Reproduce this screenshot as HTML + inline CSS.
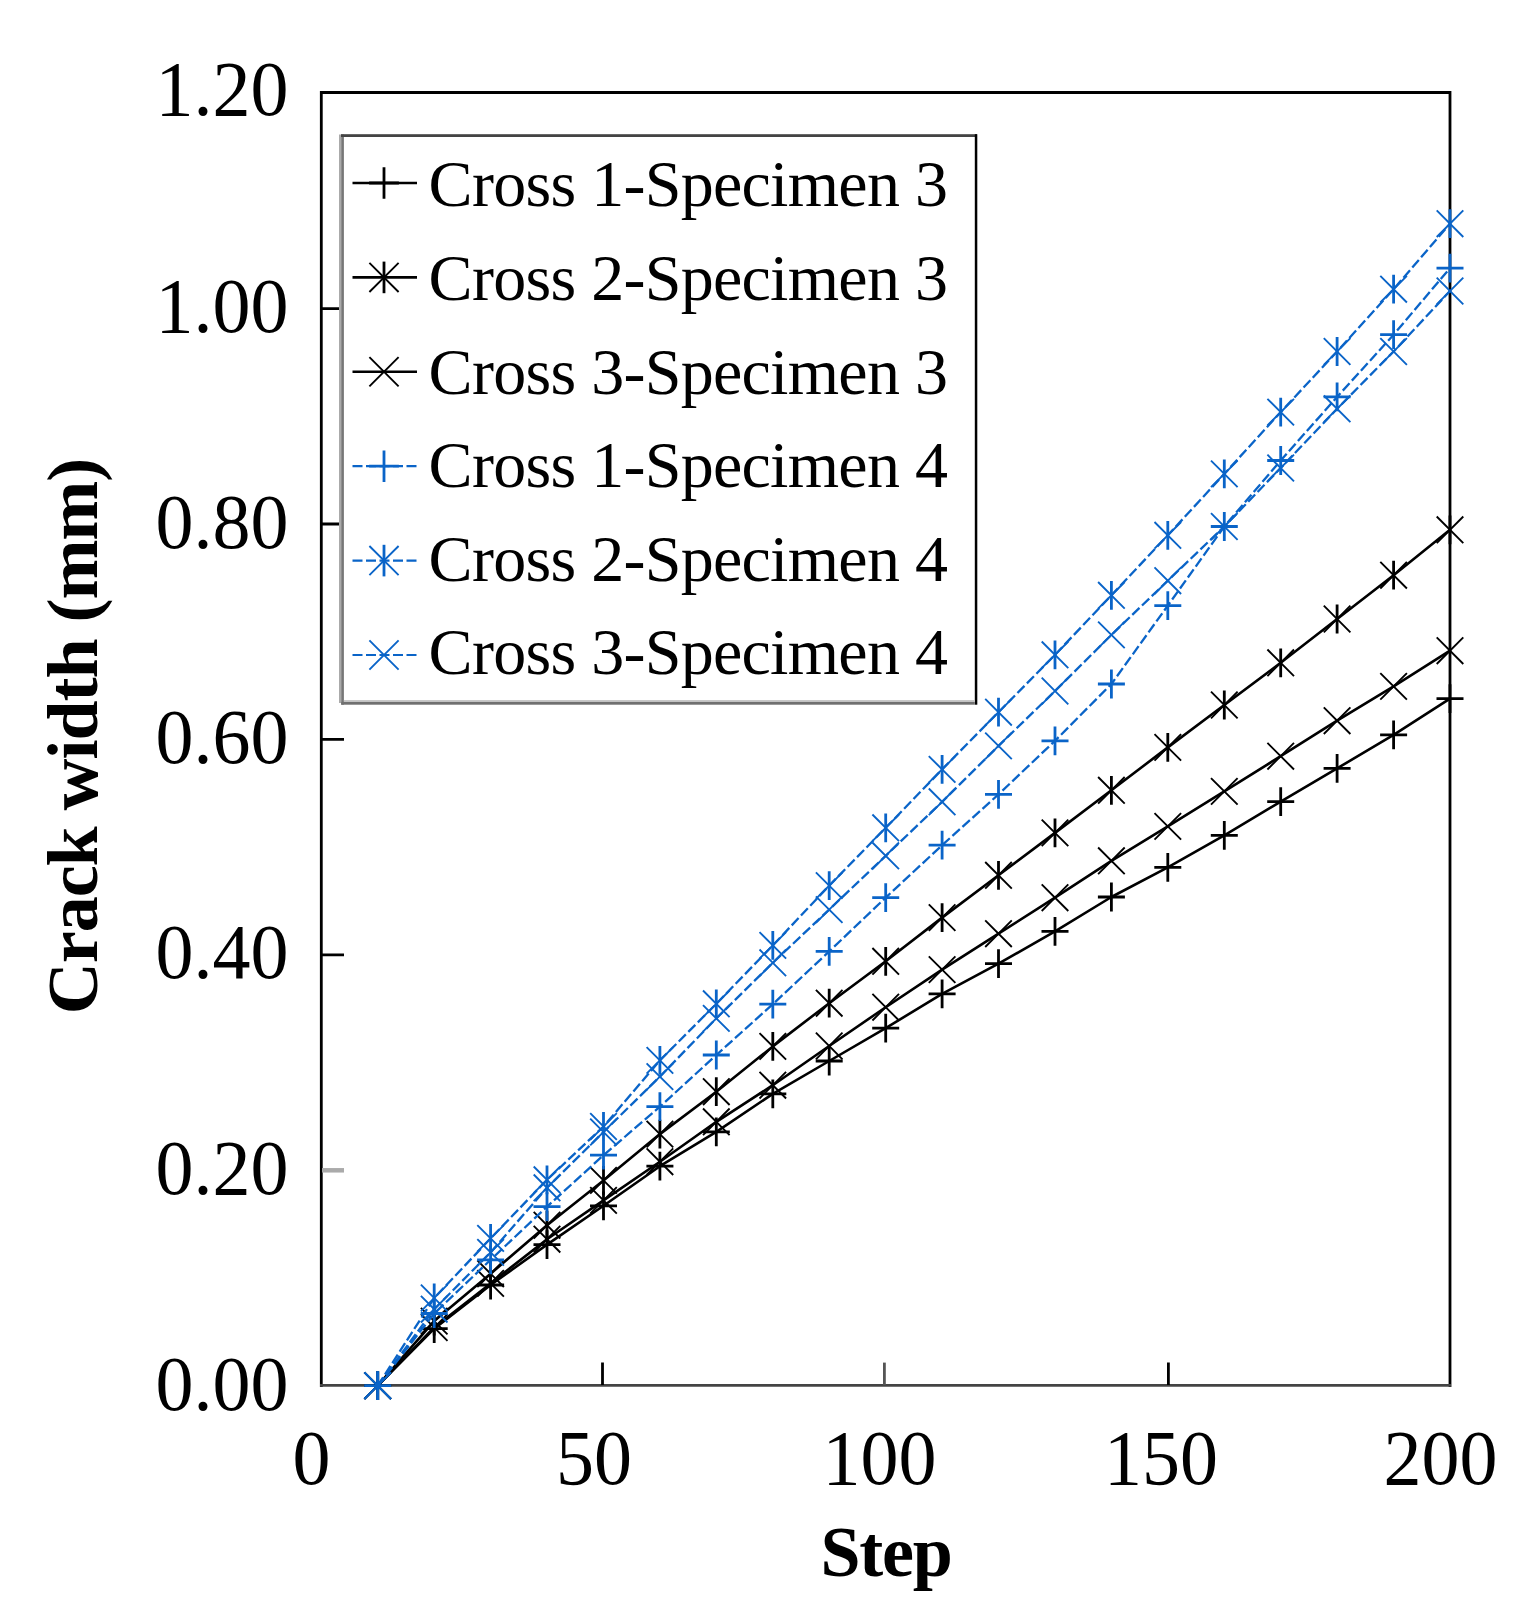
<!DOCTYPE html>
<html><head><meta charset="utf-8"><title>Crack width vs Step</title>
<style>html,body{margin:0;padding:0;background:#fff;width:1527px;height:1606px;overflow:hidden}svg{display:block}</style>
</head><body>
<svg width="1527" height="1606" viewBox="0 0 1527 1606">
<rect width="1527" height="1606" fill="#fff"/>
<path d="M321.3 92.5H1450M321.3 91V1387M1450 91V1387" stroke="#000" stroke-width="2.8" fill="none"/>
<path d="M320 1385.4H1451" stroke="#444" stroke-width="2.8" fill="none"/>
<path d="M602.5 1385V1362.6M1168.4 1385V1362.6M322 954.9H344M322 739.4H344M322 524H344M322 308.6H344" stroke="#000" stroke-width="2.8" fill="none"/>
<path d="M322 1170.3H344" stroke="#aaa" stroke-width="4.5" fill="none"/>
<path d="M884.4 1385V1362.6" stroke="#555" stroke-width="2.8" fill="none"/>
<polyline points="377.7,1385.7 434.2,1328.6 490.6,1285 547,1244.6 603.5,1205.8 659.9,1166.2 716.3,1131.9 772.8,1093.8 829.2,1061 885.7,1028.1 942.1,993.9 998.5,963.7 1055,931.3 1111.4,897 1167.8,867.4 1224.3,835.3 1280.7,801.6 1337.1,768.4 1393.6,734.8 1450,698.7" fill="none" stroke="#000" stroke-width="2.6" stroke-linejoin="round"/>
<path d="M364.2 1385.7H391.2M377.7 1371.3V1400.1M420.7 1328.6H447.7M434.2 1314.2V1343M477.1 1285H504.1M490.6 1270.6V1299.4M533.5 1244.6H560.5M547 1230.2V1259M590 1205.8H617M603.5 1191.4V1220.2M646.4 1166.2H673.4M659.9 1151.8V1180.6M702.8 1131.9H729.8M716.3 1117.5V1146.3M759.3 1093.8H786.3M772.8 1079.4V1108.2M815.7 1061H842.7M829.2 1046.6V1075.4M872.2 1028.1H899.2M885.7 1013.7V1042.5M928.6 993.9H955.6M942.1 979.5V1008.3M985 963.7H1012M998.5 949.3V978.1M1041.5 931.3H1068.5M1055 916.9V945.7M1097.9 897H1124.9M1111.4 882.6V911.4M1154.3 867.4H1181.3M1167.8 853V881.8M1210.8 835.3H1237.8M1224.3 820.9V849.7M1267.2 801.6H1294.2M1280.7 787.2V816M1323.6 768.4H1350.6M1337.1 754V782.8M1380.1 734.8H1407.1M1393.6 720.4V749.2M1436.5 698.7H1463.5M1450 684.3V713.1" fill="none" stroke="#000" stroke-width="2.8"/>

<polyline points="377.7,1385.7 434.2,1327.5 490.6,1283.4 547,1239.2 603.5,1200.4 659.9,1161.7 716.3,1121.8 772.8,1085.2 829.2,1046 885.7,1007.2 942.1,969.6 998.5,933.7 1055,897.7 1111.4,860.8 1167.8,826.4 1224.3,791.4 1280.7,756.2 1337.1,720.7 1393.6,686.4 1450,650.7" fill="none" stroke="#000" stroke-width="2.6" stroke-linejoin="round"/>
<path d="M364.4 1372.4L391 1399M364.4 1399L391 1372.4M420.9 1314.2L447.5 1340.8M420.9 1340.8L447.5 1314.2M477.3 1270.1L503.9 1296.7M477.3 1296.7L503.9 1270.1M533.7 1225.9L560.3 1252.5M533.7 1252.5L560.3 1225.9M590.2 1187.1L616.8 1213.7M590.2 1213.7L616.8 1187.1M646.6 1148.4L673.2 1175M646.6 1175L673.2 1148.4M703 1108.5L729.6 1135.1M703 1135.1L729.6 1108.5M759.5 1071.9L786.1 1098.5M759.5 1098.5L786.1 1071.9M815.9 1032.7L842.5 1059.3M815.9 1059.3L842.5 1032.7M872.4 993.9L899 1020.5M872.4 1020.5L899 993.9M928.8 956.3L955.4 982.9M928.8 982.9L955.4 956.3M985.2 920.4L1011.8 947M985.2 947L1011.8 920.4M1041.7 884.4L1068.3 911M1041.7 911L1068.3 884.4M1098.1 847.5L1124.7 874.1M1098.1 874.1L1124.7 847.5M1154.5 813.1L1181.1 839.7M1154.5 839.7L1181.1 813.1M1211 778.1L1237.6 804.7M1211 804.7L1237.6 778.1M1267.4 742.9L1294 769.5M1267.4 769.5L1294 742.9M1323.8 707.4L1350.4 734M1323.8 734L1350.4 707.4M1380.3 673.1L1406.9 699.7M1380.3 699.7L1406.9 673.1M1436.7 637.4L1463.3 664M1436.7 664L1463.3 637.4" fill="none" stroke="#000" stroke-width="1.9"/>

<polyline points="377.7,1385.7 434.2,1321.1 490.6,1273.7 547,1225.2 603.5,1180.4 659.9,1134.1 716.3,1091.7 772.8,1046.4 829.2,1003.2 885.7,961.3 942.1,917.6 998.5,875.3 1055,832.9 1111.4,790.3 1167.8,747.4 1224.3,705 1280.7,662.8 1337.1,619 1393.6,575.2 1450,529.8" fill="none" stroke="#000" stroke-width="2.6" stroke-linejoin="round"/>
<path d="M377.7 1371.3V1400.1M434.2 1306.7V1335.5M490.6 1259.3V1288.1M547 1210.8V1239.6M603.5 1166V1194.8M659.9 1119.7V1148.5M716.3 1077.3V1106.1M772.8 1032V1060.8M829.2 988.8V1017.6M885.7 946.9V975.7M942.1 903.2V932M998.5 860.9V889.7M1055 818.5V847.3M1111.4 775.9V804.7M1167.8 733V761.8M1224.3 690.6V719.4M1280.7 648.4V677.2M1337.1 604.6V633.4M1393.6 560.8V589.6M1450 515.4V544.2" fill="none" stroke="#000" stroke-width="2.8"/><path d="M364.4 1372.4L391 1399M364.4 1399L391 1372.4M420.9 1307.8L447.5 1334.4M420.9 1334.4L447.5 1307.8M477.3 1260.4L503.9 1287M477.3 1287L503.9 1260.4M533.7 1211.9L560.3 1238.5M533.7 1238.5L560.3 1211.9M590.2 1167.1L616.8 1193.7M590.2 1193.7L616.8 1167.1M646.6 1120.8L673.2 1147.4M646.6 1147.4L673.2 1120.8M703 1078.4L729.6 1105M703 1105L729.6 1078.4M759.5 1033.1L786.1 1059.7M759.5 1059.7L786.1 1033.1M815.9 989.9L842.5 1016.5M815.9 1016.5L842.5 989.9M872.4 948L899 974.6M872.4 974.6L899 948M928.8 904.3L955.4 930.9M928.8 930.9L955.4 904.3M985.2 862L1011.8 888.6M985.2 888.6L1011.8 862M1041.7 819.6L1068.3 846.2M1041.7 846.2L1068.3 819.6M1098.1 777L1124.7 803.6M1098.1 803.6L1124.7 777M1154.5 734.1L1181.1 760.7M1154.5 760.7L1181.1 734.1M1211 691.7L1237.6 718.3M1211 718.3L1237.6 691.7M1267.4 649.5L1294 676.1M1267.4 676.1L1294 649.5M1323.8 605.7L1350.4 632.3M1323.8 632.3L1350.4 605.7M1380.3 561.9L1406.9 588.5M1380.3 588.5L1406.9 561.9M1436.7 516.5L1463.3 543.1M1436.7 543.1L1463.3 516.5" fill="none" stroke="#000" stroke-width="1.9"/>

<polyline points="377.7,1385.7 434.2,1313.5 490.6,1259.8 547,1206.7 603.5,1155.2 659.9,1106.7 716.3,1055 772.8,1004.2 829.2,951.4 885.7,897.6 942.1,845.2 998.5,794.4 1055,740.8 1111.4,684 1167.8,605.6 1224.3,526.5 1280.7,460.5 1337.1,396.9 1393.6,334.7 1450,268.1" fill="none" stroke="#0a64c8" stroke-width="2.3" stroke-dasharray="10 3.5" stroke-linejoin="round"/>
<path d="M364.2 1385.7H391.2M377.7 1371.3V1400.1M420.7 1313.5H447.7M434.2 1299.1V1327.9M477.1 1259.8H504.1M490.6 1245.4V1274.2M533.5 1206.7H560.5M547 1192.3V1221.1M590 1155.2H617M603.5 1140.8V1169.6M646.4 1106.7H673.4M659.9 1092.3V1121.1M702.8 1055H729.8M716.3 1040.6V1069.4M759.3 1004.2H786.3M772.8 989.8V1018.6M815.7 951.4H842.7M829.2 937V965.8M872.2 897.6H899.2M885.7 883.2V912M928.6 845.2H955.6M942.1 830.8V859.6M985 794.4H1012M998.5 780V808.8M1041.5 740.8H1068.5M1055 726.4V755.2M1097.9 684H1124.9M1111.4 669.6V698.4M1154.3 605.6H1181.3M1167.8 591.2V620M1210.8 526.5H1237.8M1224.3 512.1V540.9M1267.2 460.5H1294.2M1280.7 446.1V474.9M1323.6 396.9H1350.6M1337.1 382.5V411.3M1380.1 334.7H1407.1M1393.6 320.3V349.1M1436.5 268.1H1463.5M1450 253.7V282.5" fill="none" stroke="#0a64c8" stroke-width="2.8"/>

<polyline points="377.7,1385.7 434.2,1298 490.6,1238.4 547,1179.8 603.5,1126.5 659.9,1060.4 716.3,1003.8 772.8,945.4 829.2,885.6 885.7,827.8 942.1,769.4 998.5,712.2 1055,654.8 1111.4,595.3 1167.8,535.3 1224.3,473.9 1280.7,412.1 1337.1,351.5 1393.6,289.2 1450,223.7" fill="none" stroke="#0a64c8" stroke-width="2.3" stroke-dasharray="10 3.5" stroke-linejoin="round"/>
<path d="M377.7 1371.3V1400.1M434.2 1283.6V1312.4M490.6 1224V1252.8M547 1165.4V1194.2M603.5 1112.1V1140.9M659.9 1046V1074.8M716.3 989.4V1018.2M772.8 931V959.8M829.2 871.2V900M885.7 813.4V842.2M942.1 755V783.8M998.5 697.8V726.6M1055 640.4V669.2M1111.4 580.9V609.7M1167.8 520.9V549.7M1224.3 459.5V488.3M1280.7 397.7V426.5M1337.1 337.1V365.9M1393.6 274.8V303.6M1450 209.3V238.1" fill="none" stroke="#0a64c8" stroke-width="2.8"/><path d="M364.4 1372.4L391 1399M364.4 1399L391 1372.4M420.9 1284.7L447.5 1311.3M420.9 1311.3L447.5 1284.7M477.3 1225.1L503.9 1251.7M477.3 1251.7L503.9 1225.1M533.7 1166.5L560.3 1193.1M533.7 1193.1L560.3 1166.5M590.2 1113.2L616.8 1139.8M590.2 1139.8L616.8 1113.2M646.6 1047.1L673.2 1073.7M646.6 1073.7L673.2 1047.1M703 990.5L729.6 1017.1M703 1017.1L729.6 990.5M759.5 932.1L786.1 958.7M759.5 958.7L786.1 932.1M815.9 872.3L842.5 898.9M815.9 898.9L842.5 872.3M872.4 814.5L899 841.1M872.4 841.1L899 814.5M928.8 756.1L955.4 782.7M928.8 782.7L955.4 756.1M985.2 698.9L1011.8 725.5M985.2 725.5L1011.8 698.9M1041.7 641.5L1068.3 668.1M1041.7 668.1L1068.3 641.5M1098.1 582L1124.7 608.6M1098.1 608.6L1124.7 582M1154.5 522L1181.1 548.6M1154.5 548.6L1181.1 522M1211 460.6L1237.6 487.2M1211 487.2L1237.6 460.6M1267.4 398.8L1294 425.4M1267.4 425.4L1294 398.8M1323.8 338.2L1350.4 364.8M1323.8 364.8L1350.4 338.2M1380.3 275.9L1406.9 302.5M1380.3 302.5L1406.9 275.9M1436.7 210.4L1463.3 237M1436.7 237L1463.3 210.4" fill="none" stroke="#0a64c8" stroke-width="1.9"/>

<polyline points="377.7,1385.7 434.2,1309.2 490.6,1252.4 547,1187.8 603.5,1132 659.9,1076.6 716.3,1018.4 772.8,962.8 829.2,909.6 885.7,855.8 942.1,801.8 998.5,745.9 1055,691 1111.4,634.9 1167.8,580.7 1224.3,526.5 1280.7,468 1337.1,408.8 1393.6,351.5 1450,291" fill="none" stroke="#0a64c8" stroke-width="2.3" stroke-dasharray="10 3.5" stroke-linejoin="round"/>
<path d="M364.4 1372.4L391 1399M364.4 1399L391 1372.4M420.9 1295.9L447.5 1322.5M420.9 1322.5L447.5 1295.9M477.3 1239.1L503.9 1265.7M477.3 1265.7L503.9 1239.1M533.7 1174.5L560.3 1201.1M533.7 1201.1L560.3 1174.5M590.2 1118.7L616.8 1145.3M590.2 1145.3L616.8 1118.7M646.6 1063.3L673.2 1089.9M646.6 1089.9L673.2 1063.3M703 1005.1L729.6 1031.7M703 1031.7L729.6 1005.1M759.5 949.5L786.1 976.1M759.5 976.1L786.1 949.5M815.9 896.3L842.5 922.9M815.9 922.9L842.5 896.3M872.4 842.5L899 869.1M872.4 869.1L899 842.5M928.8 788.5L955.4 815.1M928.8 815.1L955.4 788.5M985.2 732.6L1011.8 759.2M985.2 759.2L1011.8 732.6M1041.7 677.7L1068.3 704.3M1041.7 704.3L1068.3 677.7M1098.1 621.6L1124.7 648.2M1098.1 648.2L1124.7 621.6M1154.5 567.4L1181.1 594M1154.5 594L1181.1 567.4M1211 513.2L1237.6 539.8M1211 539.8L1237.6 513.2M1267.4 454.7L1294 481.3M1267.4 481.3L1294 454.7M1323.8 395.5L1350.4 422.1M1323.8 422.1L1350.4 395.5M1380.3 338.2L1406.9 364.8M1380.3 364.8L1406.9 338.2M1436.7 277.7L1463.3 304.3M1436.7 304.3L1463.3 277.7" fill="none" stroke="#0a64c8" stroke-width="1.9"/>

<rect x="339" y="134" width="638" height="571" fill="#fff" stroke="none"/>
<rect x="339" y="134.5" width="2.2" height="568.5" fill="#aaa"/>
<rect x="341.2" y="134.5" width="2.7" height="570.2" fill="#777"/>
<rect x="341" y="134.2" width="636" height="2.8" fill="#444"/>
<rect x="974.8" y="134.2" width="2.5" height="570.5" fill="#000"/>
<rect x="343.9" y="700" width="631" height="1.9" fill="#c8c8c8"/>
<rect x="341.2" y="701.9" width="633.6" height="2.8" fill="#707070"/>
<path d="M352.5 183H417" stroke="#000" stroke-width="2.6" fill="none"/>
<path d="M369.1 183H398.9M384 167.2V198.8" fill="none" stroke="#000" stroke-width="2.8"/>
<text x="428.6" y="206.3" font-family="Liberation Serif, serif" font-size="66" letter-spacing="-0.72" fill="#000">Cross 1-Specimen 3</text>
<path d="M352.5 277.4H417" stroke="#000" stroke-width="2.6" fill="none"/>
<path d="M384 261.6V293.2" fill="none" stroke="#000" stroke-width="2.8"/><path d="M369.4 262.8L398.6 292M369.4 292L398.6 262.8" fill="none" stroke="#000" stroke-width="1.9"/>
<text x="428.6" y="299.9" font-family="Liberation Serif, serif" font-size="66" letter-spacing="-0.72" fill="#000">Cross 2-Specimen 3</text>
<path d="M352.5 371.8H417" stroke="#000" stroke-width="2.6" fill="none"/>
<path d="M369.4 357.2L398.6 386.4M369.4 386.4L398.6 357.2" fill="none" stroke="#000" stroke-width="1.9"/>
<text x="428.6" y="393.5" font-family="Liberation Serif, serif" font-size="66" letter-spacing="-0.72" fill="#000">Cross 3-Specimen 3</text>
<path d="M352.5 466.2H417" stroke="#0a64c8" stroke-width="2.2" stroke-dasharray="10 3.5" fill="none"/>
<path d="M369.1 466.2H398.9M384 450.4V482" fill="none" stroke="#0a64c8" stroke-width="2.8"/>
<text x="428.6" y="487" font-family="Liberation Serif, serif" font-size="66" letter-spacing="-0.72" fill="#000">Cross 1-Specimen 4</text>
<path d="M352.5 560.6H417" stroke="#0a64c8" stroke-width="2.2" stroke-dasharray="10 3.5" fill="none"/>
<path d="M384 544.8V576.4" fill="none" stroke="#0a64c8" stroke-width="2.8"/><path d="M369.4 546L398.6 575.2M369.4 575.2L398.6 546" fill="none" stroke="#0a64c8" stroke-width="1.9"/>
<text x="428.6" y="580.6" font-family="Liberation Serif, serif" font-size="66" letter-spacing="-0.72" fill="#000">Cross 2-Specimen 4</text>
<path d="M352.5 655H417" stroke="#0a64c8" stroke-width="2.2" stroke-dasharray="10 3.5" fill="none"/>
<path d="M369.4 640.4L398.6 669.6M369.4 669.6L398.6 640.4" fill="none" stroke="#0a64c8" stroke-width="1.9"/>
<text x="428.6" y="674.2" font-family="Liberation Serif, serif" font-size="66" letter-spacing="-0.72" fill="#000">Cross 3-Specimen 4</text>
<text transform="translate(288.5 1410.4) scale(1 1.04)" text-anchor="end" font-family="Liberation Serif, serif" font-size="76" fill="#000">0.00</text>
<text transform="translate(288.5 1194.3) scale(1 1.04)" text-anchor="end" font-family="Liberation Serif, serif" font-size="76" fill="#000">0.20</text>
<text transform="translate(288.5 978.3) scale(1 1.04)" text-anchor="end" font-family="Liberation Serif, serif" font-size="76" fill="#000">0.40</text>
<text transform="translate(288.5 762.6) scale(1 1.04)" text-anchor="end" font-family="Liberation Serif, serif" font-size="76" fill="#000">0.60</text>
<text transform="translate(288.5 547.7) scale(1 1.04)" text-anchor="end" font-family="Liberation Serif, serif" font-size="76" fill="#000">0.80</text>
<text transform="translate(288.5 331.9) scale(1 1.04)" text-anchor="end" font-family="Liberation Serif, serif" font-size="76" fill="#000">1.00</text>
<text transform="translate(288.5 114.9) scale(1 1.04)" text-anchor="end" font-family="Liberation Serif, serif" font-size="76" fill="#000">1.20</text>
<text transform="translate(311.4 1483.5) scale(1 1.04)" text-anchor="middle" font-family="Liberation Serif, serif" font-size="76" fill="#000">0</text>
<text transform="translate(594.1 1483.5) scale(1 1.04)" text-anchor="middle" font-family="Liberation Serif, serif" font-size="76" fill="#000">50</text>
<text transform="translate(879.4 1483.5) scale(1 1.04)" text-anchor="middle" font-family="Liberation Serif, serif" font-size="76" fill="#000">100</text>
<text transform="translate(1161 1483.5) scale(1 1.04)" text-anchor="middle" font-family="Liberation Serif, serif" font-size="76" fill="#000">150</text>
<text transform="translate(1440.5 1483.5) scale(1 1.04)" text-anchor="middle" font-family="Liberation Serif, serif" font-size="76" fill="#000">200</text>
<text x="886" y="1575.5" text-anchor="middle" font-family="Liberation Serif, serif" font-weight="bold" font-size="72" letter-spacing="-1.3" fill="#000">Step</text>
<text transform="translate(96.5 736.5) rotate(-90)" text-anchor="middle" font-family="Liberation Serif, serif" font-weight="bold" font-size="72" letter-spacing="-1.03" fill="#000">Crack width (mm)</text>
</svg>
</body></html>
